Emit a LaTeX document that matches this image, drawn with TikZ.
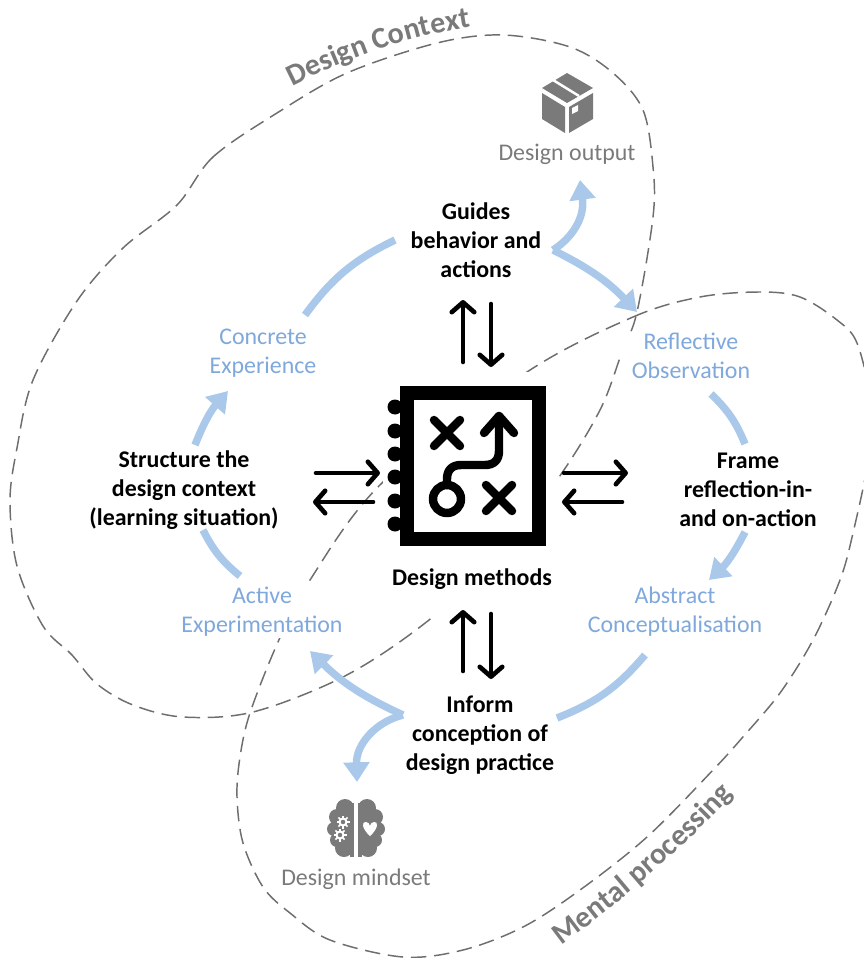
\documentclass[tikz,border=0pt]{standalone}
\usepackage{fontspec}
\setmainfont{Carlito}
\usetikzlibrary{arrows.meta,decorations.text}

\definecolor{cyclecolor}{HTML}{A9C8EA}
\definecolor{cycletext}{HTML}{7FA8DC}
\definecolor{icongray}{HTML}{7A7A7A}
\definecolor{dashgray}{HTML}{6E6E6E}

\newcommand{\titlefont}{\fontsize{21.4}{24}\selectfont\bfseries\color{icongray}}

\tikzset{
    blob/.style={dash pattern=on 11pt off 5.5pt, draw=dashgray, line width=1.05pt},
    cyclearc/.style={cyclecolor, line width=5.3pt},
    cyclearrow/.style={cyclearc, -{Triangle[length=14pt,width=18pt]}},
    exchange/.style={black, line width=3.3pt, line cap=round, -{Straight Barb[length=7pt,width=16pt,round]}},
    phase/.style={font=\fontsize{17}{20.6}\selectfont, text=cycletext, align=center, fill=white, inner xsep=8pt, inner ysep=1pt},
    action/.style={font=\fontsize{17}{20.6}\selectfont\bfseries, align=center},
    outcome/.style={font=\fontsize{17}{20.6}\selectfont, text=icongray, align=center},
    iconline/.style={black, line width=6pt, line cap=round, line join=round},
}

\begin{document}
\begin{tikzpicture}[x=0.025cm,y=-0.025cm]
    \useasboundingbox (0,0) rectangle (863,958);

    % two dashed regions
    \draw[blob] plot[smooth cycle, tension=0.55] coordinates {
        (177,205) (213,157) (277,113) (347,73) (437,43) (503,35) (570,47) (613,73)
        (643,110) (653,167) (653,217) (637,312) (622,352) (600,410) (557,480) (490,565)
        (420,627) (343,677) (253,712) (183,717) (133,705) (97,684) (72,655) (43,626)
        (17,566) (10,501) (17,448) (33,380) (77,301) (123,248)};
    \draw[blob] plot[smooth cycle, tension=0.55] coordinates {
        (527,372) (633,317) (700,297) (760,292) (800,297) (837,320) (857,343) (870,400)
        (868,460) (853,533) (840,580) (813,640) (780,693) (742,738) (713,770) (647,837)
        (580,890) (523,927) (463,950) (403,957) (330,940) (290,913) (263,887) (243,843)
        (237,797) (240,757) (250,713) (278,642) (310,580) (383,482)};
    \fill[white] (383,372) rectangle (557,618); % dashes stop at the icon

    % region titles
    \coordinate (CT1) at (293,86);
    \coordinate (CT2) at (470,27);
    \coordinate (MP1) at (560,947);
    \coordinate (MP2) at (735,793);
    \path[decorate, decoration={text along path, text align=center, text={|\titlefont|Design Context}}]
        (CT1) .. controls (345,60) and (400,38) .. (CT2);
    \path[decorate, decoration={text along path, text align=center, text={|\titlefont|Mental processing}}]
        (MP1) .. controls (617,905) and (682,850) .. (MP2);

    % book icon
    \foreach \y in {407,431,454,477,501,524} {
        \fill (395,\y) circle (7.5);
    }
    \draw[black, fill=white, line width=10.5pt] (407,393) rectangle (539,539);
    \draw[iconline] (434,420) -- (460,446);
    \draw[iconline] (460,420) -- (434,446);
    \draw[iconline] (486,485) -- (512,511);
    \draw[iconline] (512,485) -- (486,511);
    \draw[iconline] (447,499) circle (14);
    \draw[iconline] (447,485) -- (447,479) .. controls (447,470) and (452,465) .. (461,465) -- (485,465)
        .. controls (494,465) and (499,460) .. (499,451) -- (499,416);
    \draw[iconline] (484,433) -- (499,416) -- (514,433);
    \node[action] (methods) at (472,579) {Design methods};

    % labels on the cycle
    \node[action] (guides) at (476,240) {Guides\\behavior and\\actions};
    \node[action] (frame) at (748,490) {Frame\\reflection-in-\\and on-action};
    \node[action] (inform) at (480,735) {Inform\\conception of\\design practice};
    \node[action] (struct) at (184,490) {Structure the\\design context\\(learning situation)};
    \node[phase] (concrete) at (263,353) {Concrete\\Experience};
    \node[phase] (reflective) at (691,356) {Reflective\\Observation};
    \node[phase] (abstract) at (675,612) {Abstract\\Conceptualisation};
    \node[phase] (active) at (262,612) {Active\\Experimentation};

    % cycle arcs
    \coordinate (C1) at (305,315);
    \coordinate (C2) at (395,240);
    \coordinate (G1) at (553,250);
    \coordinate (G2) at (637,312);
    \coordinate (G3) at (580,180);
    \coordinate (R1) at (711,394);
    \coordinate (R2) at (745,444);
    \coordinate (F1) at (745,532);
    \coordinate (F2) at (709,580);
    \coordinate (A1) at (645,655);
    \coordinate (A2) at (557,718);
    \coordinate (I1) at (403,715);
    \coordinate (I2) at (310,651);
    \coordinate (I3) at (357,782);
    \coordinate (E1) at (240,576);
    \coordinate (E2) at (203,530);
    \coordinate (S1) at (195,445);
    \coordinate (S2) at (228,391);

    \draw[cyclearc] (C1) to[bend left=14] (C2);
    \draw[cyclearrow] (G1) to[bend left=10] (G2);
    \draw[cyclearrow] (G1) .. controls (572,238) and (585,218) .. (G3);
    \draw[cyclearc] (R1) to[bend left=12] (R2);
    \draw[cyclearrow] (F1) to[bend left=10] (F2);
    \draw[cyclearc] (A1) to[bend left=14] (A2);
    \draw[cyclearrow] (I1) to[bend left=10] (I2);
    \draw[cyclearrow] (I1) .. controls (375,722) and (356,745) .. (I3);
    \draw[cyclearc] (E1) to[bend left=12] (E2);
    \draw[cyclearrow] (S1) to[bend left=10] (S2);

    % arrows to and from the methods
    \coordinate (T1) at (463,362);
    \coordinate (T2) at (463,300);
    \coordinate (T3) at (491,304);
    \coordinate (T4) at (491,367);
    \coordinate (L1) at (316,473);
    \coordinate (L2) at (380,473);
    \coordinate (L3) at (373,502);
    \coordinate (L4) at (313,502);
    \coordinate (H1) at (564,473);
    \coordinate (H2) at (628,473);
    \coordinate (H3) at (622,502);
    \coordinate (H4) at (562,502);
    \coordinate (B1) at (463,671);
    \coordinate (B2) at (463,610);
    \coordinate (B3) at (491,614);
    \coordinate (B4) at (491,679);
    \foreach \from/\to in {T1/T2,T3/T4,L1/L2,L3/L4,H1/H2,H3/H4,B1/B2,B3/B4} {
        \draw[exchange] (\from) -- (\to);
    }

    % box icon
    \fill[icongray] (567,73) -- (593,88) -- (567,103) -- (542,88) -- cycle;
    \fill[icongray] (542,93) -- (565,107) -- (565,133) -- (542,119) -- cycle;
    \fill[icongray] (593,93) -- (569,107) -- (569,133) -- (593,119) -- cycle;
    \draw[white, line width=1.8pt] (553,80) -- (579,96);
    \fill[white] (572,108) -- (578,105) -- (578,111) -- (572,114) -- cycle;
    \node[outcome] (output) at (567,154) {Design output};

    % brain icon
    \foreach \sgn in {-1,1} {
        \foreach \dx/\cy/\r in {11/808/9,19/817/8,22/829/7,19/840/7,12/848/9} {
            \fill[icongray] (356+\sgn*\dx,\cy) circle (\r);
        }
        \fill[icongray] (356+\sgn*2,803) rectangle (356+\sgn*17,853);
        \fill[icongray] (356+\sgn*2,803) rectangle (356+\sgn*6,857);
    }
    \foreach \cx/\cy in {343/822,340/835} {
        \foreach \a in {0,45,...,315} {
            \draw[white, line width=1.2pt] (\cx,\cy) ++(\a:3.5) -- ++(\a:3);
        }
        \draw[white, line width=1.4pt] (\cx,\cy) circle (3.5);
    }
    \fill[white] (370,836) .. controls (362,829) and (361,821) .. (366,822) .. controls (368,822) and (370,824) .. (370,826)
        .. controls (370,824) and (372,822) .. (374,822) .. controls (379,821) and (378,829) .. (370,836);
    \node[outcome] (mindset) at (356,879) {Design mindset};
\end{tikzpicture}
\end{document}
